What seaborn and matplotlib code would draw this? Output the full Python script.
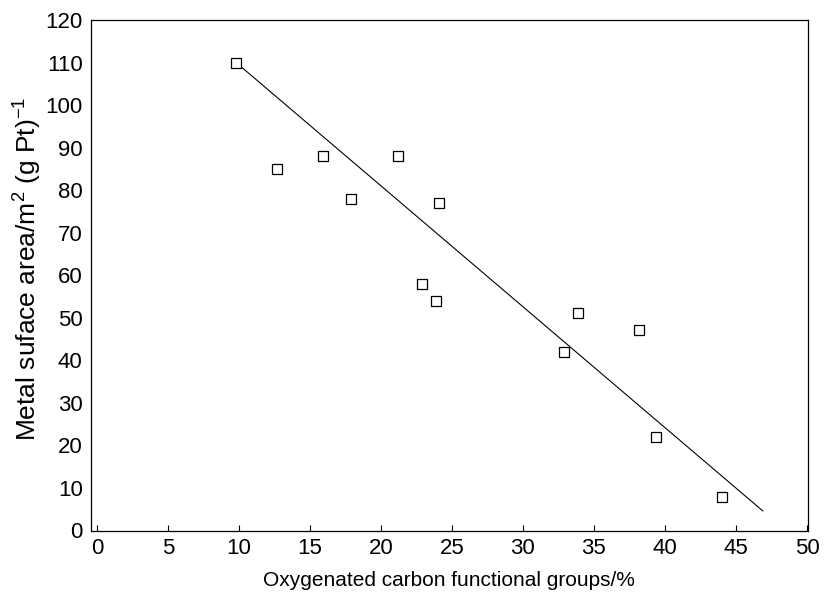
import matplotlib
matplotlib.use("Agg")
import matplotlib.pyplot as plt
import seaborn as sns
import pandas as pd

# values
oxy_pct = [9.8, 12.7, 15.9, 17.9, 21.2, 24.1, 22.9, 23.9, 33.9, 38.2, 32.9, 39.4, 44.0]
surface_area = [110, 85, 88, 78, 88, 77, 58, 54, 51, 47, 42, 22, 7.7]

# fitted line end points
fit_x = [9.8, 46.9]
fit_y = [110, 4.5]

xticks = list(range(0, 55, 5))
yticks = list(range(0, 130, 10))

sns.set_style("ticks")
plt.rcParams["font.family"] = ["Liberation Sans", "DejaVu Sans"]
plt.rcParams["mathtext.fontset"] = "custom"
plt.rcParams["mathtext.rm"] = "Liberation Sans"
plt.rcParams["mathtext.it"] = "Liberation Sans:italic"
plt.rcParams["text.color"] = "black"
plt.rcParams["axes.labelcolor"] = "black"
plt.rcParams["xtick.color"] = "black"
plt.rcParams["ytick.color"] = "black"

df = pd.DataFrame({"x": oxy_pct, "y": surface_area})
fit = pd.DataFrame({"x": fit_x, "y": fit_y})

fig = plt.figure(figsize=(8.25, 5.96), dpi=100)
ax = fig.add_axes([0.1103, 0.109, 0.979 - 0.1103, 0.9664 - 0.109])

sns.lineplot(data=fit, x="x", y="y", ax=ax, color="black", linewidth=0.8)
sns.scatterplot(data=df, x="x", y="y", ax=ax, marker="s", s=45,
                facecolor="white", edgecolor="black", linewidth=0.9, zorder=3)

ax.set_xlim(-0.42, 50.05)
ax.set_ylim(-0.2, 120)
ax.set_xticks(xticks)
ax.set_yticks(yticks)
ax.tick_params(axis="both", direction="in", length=4, width=0.8, labelsize=16)
ax.tick_params(axis="x", pad=5)
ax.tick_params(axis="y", length=0, pad=6)
for s in ax.spines.values():
    s.set_linewidth(0.9)
    s.set_color("black")

ax.set_xlabel("Oxygenated carbon functional groups/%", fontsize=15, labelpad=9)
ax.set_ylabel(r"Metal suface area/m$^2$ (g Pt)$^{-1}$", fontsize=19, labelpad=0)
ax.yaxis.set_label_coords(-0.066, 0.513)

fig.savefig("out.png", dpi=100)
